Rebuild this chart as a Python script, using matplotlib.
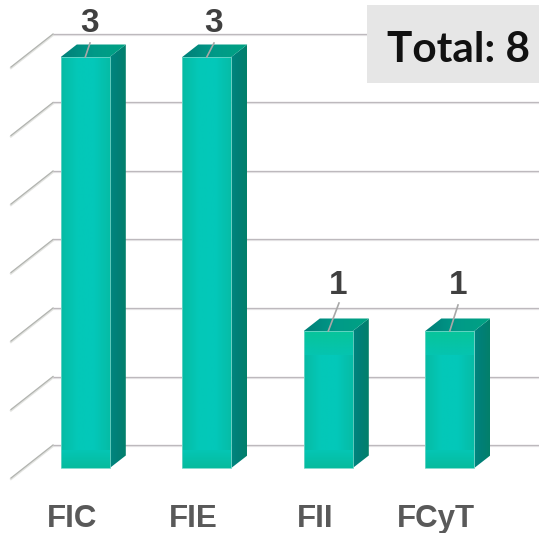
#!/usr/bin/env python3
import matplotlib
matplotlib.use("Agg")
import matplotlib.pyplot as plt
import numpy as np
from matplotlib.colors import LinearSegmentedColormap
from matplotlib.patches import Polygon, Rectangle

categories = ["FIC", "FIE", "FII", "FCyT"]
values = [3, 3, 1, 1]
grid_levels = [0, 0.5, 1, 1.5, 2, 2.5, 3]

# pixel scale of the reference
PX_X = 121.5
PX_Y = 137.0
X0 = 85.3
Y0 = 468.0
dx = 1 / PX_X
dy = 1 / PX_Y
BAR_W = 49 * dx
DEPTH_X = 16 * dx
DEPTH_Y = 12.5 * dy
WALL_Y = 23 * dy

front_cmap = LinearSegmentedColormap.from_list("front", ["#06bba4", "#04c8b8", "#03c8ba", "#06bca6"])
side_cmap = LinearSegmentedColormap.from_list("side", ["#00857f", "#017f76", "#03806a"])
top_cmap = LinearSegmentedColormap.from_list("top", ["#007f78", "#009a88", "#00a283"])
floor_cmap = LinearSegmentedColormap.from_list("floor", ["#06bb9e", "#04c6b4"])
band_cmap = LinearSegmentedColormap.from_list("band", ["#05c4b0", "#08c49a"])


def px(x):
    return (x - X0) * dx


def py(y):
    return (Y0 - y) * dy


fig = plt.figure(figsize=(5.39, 5.33), dpi=100)
ax = fig.add_axes([0, 0, 1, 1])
ax.axis("off")


def shaded(poly, cmap, vertical=False, z=3):
    xs = [p[0] for p in poly]
    ys = [p[1] for p in poly]
    grad = np.linspace(0, 1, 64)
    grad = grad.reshape(-1, 1) if vertical else grad.reshape(1, -1)
    im = ax.imshow(grad, cmap=cmap, aspect="auto", zorder=z, interpolation="bilinear",
                   extent=(min(xs), max(xs), min(ys), max(ys)), origin="lower")
    patch = Polygon(poly, closed=True, transform=ax.transData, fc="none", ec="none")
    ax.add_patch(patch)
    im.set_clip_path(patch)


# back wall lines, with a pale shadow under each
for lv in grid_levels:
    y_back = lv + WALL_Y
    y_front = lv - 10 * dy
    x_back = px(53)
    x_front = px(11)
    ax.plot([x_back, px(539)], [y_back - 1 * dy, y_back - 1 * dy], color="#e9e7e9", lw=1.6, zorder=1,
            solid_capstyle="butt")
    ax.plot([x_back, px(539)], [y_back, y_back], color="#bdb9bd", lw=0.9, zorder=1.1, solid_capstyle="butt")
    ax.plot([x_front, x_back], [y_front - 1 * dy, y_back - 1 * dy], color="#e2e3e0", lw=1.6, zorder=1)
    ax.plot([x_front, x_back], [y_front, y_back], color="#b2b4b0", lw=0.9, zorder=1.1)

for i, v in enumerate(values):
    left = i - BAR_W / 2
    right = i + BAR_W / 2
    shaded([(left, 0), (right, 0), (right, v), (left, v)], front_cmap, z=3)
    shaded([(left, 0), (right, 0), (right, 18 * dy), (left, 18 * dy)], floor_cmap, vertical=True, z=3.2)
    if v == 1:
        shaded([(left, v - 24 * dy), (right, v - 24 * dy), (right, v), (left, v)], band_cmap, vertical=True, z=3.2)
    ax.bar(i, v, width=BAR_W, color="none", edgecolor="#6fd6c8", lw=0.6, zorder=3.5)
    shaded([(right, 0), (right + DEPTH_X, DEPTH_Y), (right + DEPTH_X, v + DEPTH_Y), (right, v)],
           side_cmap, z=3)
    shaded([(left, v), (left + DEPTH_X, v + DEPTH_Y), (right + DEPTH_X, v + DEPTH_Y), (right, v)],
           top_cmap, z=3)

# data labels with their leader lines
label_x = [px(90), px(214), px(338), px(458)]
label_y = [py(24), py(24), py(285), py(286)]
leader_x = [px(90), px(214), px(339), px(458)]
leader_y = [py(43), py(43), py(303), py(305)]
for i, v in enumerate(values):
    ax.plot([i, leader_x[i]], [v, leader_y[i]], color="#a8a8a8", lw=1.2, zorder=4)
    ax.text(label_x[i], label_y[i], str(v), ha="center", va="center", fontsize=24,
            fontweight="bold", family="Liberation Sans", color="#404040", zorder=5)

cat_x = [px(72), px(193), px(315), px(436)]
for i, name in enumerate(categories):
    ax.text(cat_x[i], py(519), name, ha="center", va="center", fontsize=22.5, fontweight="bold",
            family="Liberation Sans", color="#595959", zorder=5)

# total box
ax.add_patch(Rectangle((px(367), py(83)), 172 * dx, 78 * dy, fc="#e6e6e6", ec="none", zorder=6))
ax.text(px(458), py(50), "Total: 8", ha="center", va="center", fontsize=30.5,
        fontweight="bold", family="Lato", color="#111111", zorder=7)

ax.set_xlim(px(0), px(539))
ax.set_ylim(py(533), py(0))
fig.savefig("out.png", dpi=100)
